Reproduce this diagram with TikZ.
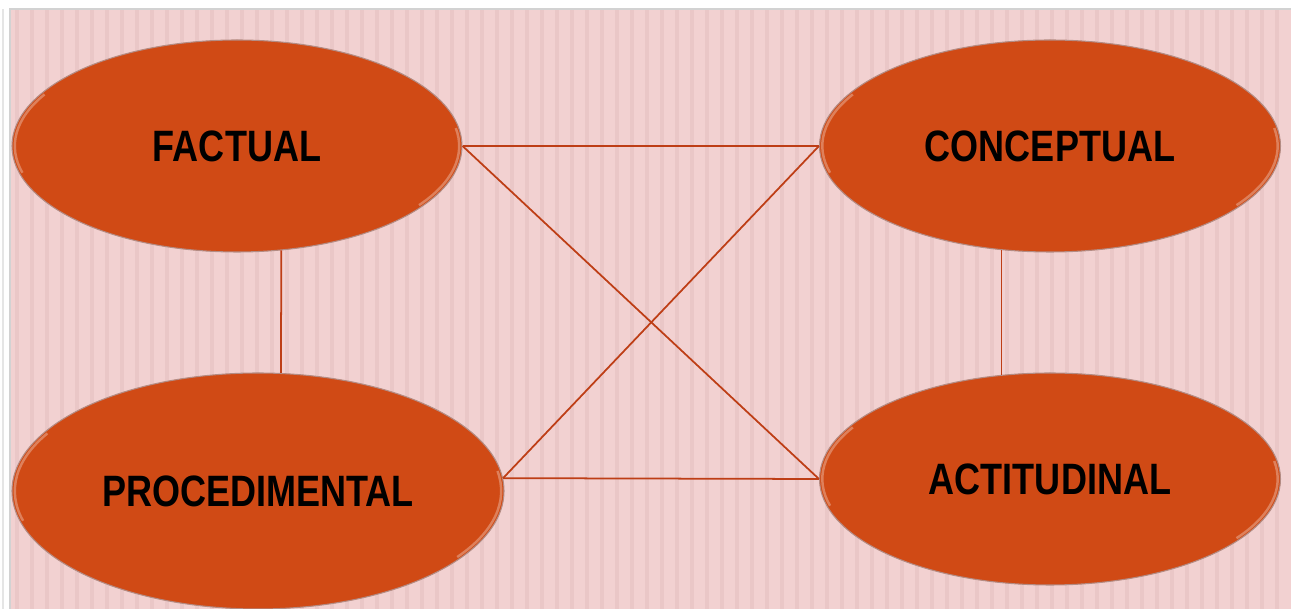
\documentclass[tikz,border=0pt]{standalone}
\usepackage{fontspec}
\newfontfamily\narrowfont{Liberation Sans}[FakeStretch=0.82]
\usetikzlibrary{shapes.geometric, calc}

\definecolor{fondo}{RGB}{242,209,209}
\definecolor{raya}{RGB}{234,199,199}
\definecolor{naranja}{RGB}{208,74,21}
\definecolor{borde}{RGB}{180,140,132}
\definecolor{linea}{RGB}{190,62,22}

\begin{document}
\begin{tikzpicture}[
        % Estilos para las elipses
        saber/.style={
                ellipse,
                inner sep=0pt,
                fill=naranja,
                draw=borde,
                line width=0.6pt,
                text=black,
                font=\narrowfont\bfseries\fontsize{25}{30}\selectfont,
                path picture={
                        \path let \p1=(path picture bounding box.north east),
                                  \p2=(path picture bounding box.center),
                                  \n1={\x1-\x2-1.6pt}, \n2={\y1-\y2-1.6pt} in
                            [draw=white, opacity=.3, line width=1.4pt]
                            ($(\p2)+({\n1*cos(150)},{\n2*sin(150)})$)
                            arc[start angle=150, end angle=195, x radius=\n1, y radius=\n2]
                            ($(\p2)+({\n1*cos(-35)},{\n2*sin(-35)})$)
                            arc[start angle=-35, end angle=10, x radius=\n1, y radius=\n2];
                    }
            },
        % Lineas
        enlace/.style={
                draw=linea,
                line width=1pt
            }
    ]

    % FONDO
    \useasboundingbox (0,0) rectangle (25.82,12.18);
    \fill[white] (0,0) rectangle (25.82,12.18);
    \fill[fondo] (0.2,0) rectangle (25.82,12.0);
    \foreach \sx in {0.3,0.6,...,25.8}
        \fill[raya] (\sx,0) rectangle ++(0.08,12.0);
    \draw[gray!35, line width=0.8pt] (0.2,0) -- (0.2,12.0) -- (25.82,12.0);
    \draw[gray!20, line width=0.6pt] (0.06,0) -- (0.06,12.0);

    % ELIPSES
    \node[saber, minimum width=9cm, minimum height=4.24cm] (fact) at (4.74,9.26) {FACTUAL};
    \node[saber, minimum width=9.22cm, minimum height=4.24cm] (concep) at (21.0,9.26) {CONCEPTUAL};
    \node[saber, minimum width=9.84cm, minimum height=4.72cm] (proc) at (5.16,2.36) {PROCEDIMENTAL};
    \node[saber, minimum width=9.22cm, minimum height=4.24cm] (actit) at (21.0,2.6) {ACTITUDINAL};

    % LINEAS
    \draw[enlace] (fact.east) -- (concep.west);
    \draw[enlace] (fact.east) -- (actit.west);
    \draw[enlace] (proc.3) -- (concep.west);
    \draw[enlace] (proc.3) -- (actit.west);
    \draw[enlace] (fact.-67.5) -- (proc.79.3);
    \draw[enlace] (concep.-115.8) -- (actit.115.8);

\end{tikzpicture}
\end{document}
